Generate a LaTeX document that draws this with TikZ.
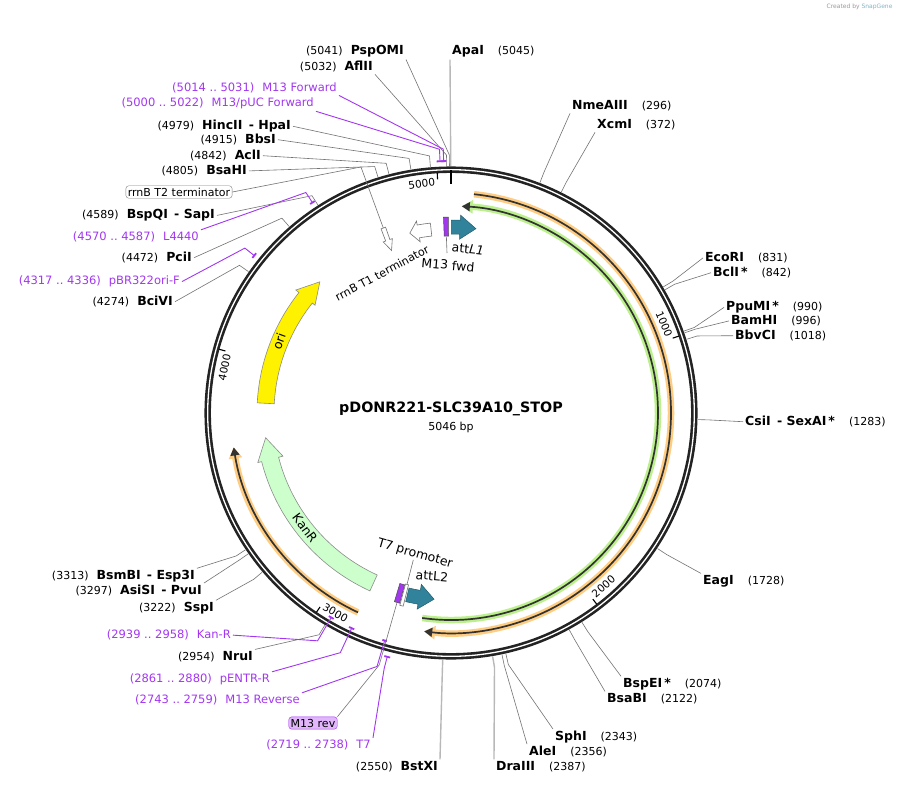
\documentclass[tikz,border=0pt]{standalone}
\usepackage{fontspec}
\setmainfont{DejaVu Sans}
\usetikzlibrary{arrows.meta,positioning,calc}

\definecolor{primer}{RGB}{163,55,240}
\definecolor{attcol}{RGB}{49,131,155}
\definecolor{kancol}{RGB}{204,255,204}
\definecolor{orglow}{RGB}{255,205,130}
\definecolor{grglow}{RGB}{188,240,140}
\definecolor{ringcol}{RGB}{35,35,35}
\definecolor{m13fill}{RGB}{226,182,250}

% feature arrow on the map: style, tail, head base, tip, r in, r out, barb in, barb out, tip r
\newcommand{\featarrow}[9]{%
  \draw[#1] ($(c)+(#2:#6)$) arc[start angle=#2, end angle=#3, radius=#6]
    -- ($(c)+(#3:#8)$) -- ($(c)+(#4:#9)$) -- ($(c)+(#3:#7)$)
    -- ($(c)+(#3:#5)$) arc[start angle=#3, end angle=#2, radius=#5] -- cycle;}
% short feature drawn across the ring: style, angle, half width, r in, r out
\newcommand{\radbar}[5]{%
  \draw[#1] ($(c)+(#2-#3:#4)$) -- ($(c)+(#2+#3:#4)$) -- ($(c)+(#2+#3:#5)$)
    -- ($(c)+(#2-#3:#5)$) -- cycle;}
\newcommand{\bpnum}[1]{{\fontsize{11}{13}\selectfont #1}}

\begin{document}
\begin{tikzpicture}[x=1pt,y=-1pt,
    font=\fontsize{11}{13}\selectfont,
    lbl/.style={inner sep=2pt,font=\fontsize{12.5}{14}\selectfont},
    primlbl/.style={inner sep=2pt,text=primer,font=\fontsize{11.5}{14}\selectfont},
    leader/.style={draw=black!55,line width=0.6pt},
    leaderU/.style={draw=black!28,line width=1.4pt},
    primlead/.style={draw=primer,line width=0.9pt},
    primbar/.style={draw=primer,line width=1.8pt},
    ring/.style={draw=ringcol,line width=6.5pt},
    ringgap/.style={draw=white,line width=1.3pt},
    tick/.style={draw=black,line width=1.1pt},
    tickl/.style={inner sep=0pt,font=\fontsize{10.5}{12}\selectfont},
    featlbl/.style={inner sep=0pt,font=\fontsize{12.5}{14}\selectfont},
    orline/.style={draw=orglow,line width=6.5pt,-{Triangle[length=11pt,width=13pt]}},
    grline/.style={draw=grglow,line width=6.5pt,-{Triangle[length=11pt,width=13pt]}},
    darkline/.style={draw=black!80,line width=1.7pt,-{Triangle[length=8pt,width=9pt]}},
    orifeat/.style={draw=black!45,fill=yellow,line width=0.6pt},
    kanfeat/.style={draw=black!45,fill=kancol,line width=0.6pt},
    whitefeat/.style={draw=black!55,fill=white,line width=0.6pt},
    attfeat/.style={draw=attcol!70!black,fill=attcol,line width=0.5pt},
    primfeat/.style={draw=black!70,fill=primer,line width=0.5pt},
    t2box/.style={draw=black!50,fill=white,rounded corners=3pt,inner sep=2pt},
    m13box/.style={draw=primer,fill=m13fill,rounded corners=3pt,inner sep=2pt}
  ]
  \useasboundingbox (0,0) rectangle (898,785);
  \fill[white] (0,0) rectangle (898,785);
  \coordinate (c) at (451,413);

  % cut sites, left side
  \foreach \bp/\lx/\ly/\nm/\anc/\sty [count=\i] in {
    5041/406/51/PspOMI/south east/leader,
    5032/375/67/AflII/south east/leader,
    4979/293/126/{HincII\enspace- HpaI}/east/leader,
    4915/278/140/BbsI/east/leader,
    4842/263/156/AclI/east/leader,
    4805/249/171/BsaHI/east/leader,
    4589/217/215/{BspQI\enspace- SapI}/east/leader,
    4472/194/258/PciI/east/leader,
    4274/175/302/BciVI/east/leader,
    3313/197/576/{BsmBI\enspace- Esp3I}/north east/leader,
    3297/204/591/{AsiSI\enspace- PvuI}/north east/leader,
    3222/216/608/SspI/north east/leader,
    2954/255/657/NruI/north east/leader,
    2550/440/767/BstXI/north east/leaderU}{
    \pgfmathsetmacro\ph{\bp/5046*360-90}
    \node[lbl,anchor=mid east] (sl\i) at (\lx,\ly+1) {\bpnum{(\bp)}\hspace{8pt}\textbf{\nm}};
    \coordinate (slk\i) at ($(c)+(\ph:258)$);
    \coordinate (sls\i) at ($(c)+(\ph:247)$);
    \draw[\sty] (sl\i.\anc) -- (slk\i) -- (sls\i);
  }

  % cut sites, right side
  \foreach \bp/\lx/\ly/\nm/\anc/\sty [count=\i] in {
    5045/450/51/ApaI/south west/leaderU,
    296/570/106/NmeAIII/south west/leader,
    372/595/125/XcmI/south west/leader,
    831/703/258/EcoRI/west/leader,
    842/711/273/{BclI\,*}/west/leader,
    990/724/307/{PpuMI\,*}/west/leader,
    996/729/321/BamHI/west/leader,
    1018/733/336/BbvCI/west/leader,
    1283/743/422/{CsiI\enspace- SexAI\,*}/west/leader,
    1728/701/581/EagI/north west/leader,
    2074/621/684/{BspEI\,*}/north west/leader,
    2122/605/699/BsaBI/north west/leader,
    2343/553/737/SphI/north west/leader,
    2356/527/752/AleI/north west/leader,
    2387/494/767/DraIII/north west/leaderU}{
    \pgfmathsetmacro\ph{\bp/5046*360-90}
    \node[lbl,anchor=mid west] (sr\i) at (\lx,\ly+1) {\textbf{\nm}\hspace{14pt}\bpnum{(\bp)}};
    \coordinate (srk\i) at ($(c)+(\ph:258)$);
    \coordinate (srs\i) at ($(c)+(\ph:247)$);
    \draw[\sty] (sr\i.\anc) -- (srk\i) -- (srs\i);
  }

  % the ring
  \draw[ring] (c) circle[radius=243.3];
  \draw[ringgap] (c) circle[radius=243.3];
  \draw[line width=2.5pt] ($(c)+(-90:243)$) -- ($(c)+(-90:229)$);
  \foreach \t in {1000,2000,3000,4000,5000}{
    \pgfmathsetmacro\ph{\t/5046*360-90}
    \pgfmathsetmacro\rot{mod(-\t/5046*360+94+720,180)-90}
    \draw[tick] ($(c)+(\ph:240.5)$) -- ($(c)+(\ph:234)$);
    \node[tickl,rotate=\rot] (tk\t) at ($(c)+(\ph-4:231)$) {\t};
  }

  % primers
  \foreach \pa/\pb/\lx/\ly/\nm/\anc/\rr [count=\i] in {
    5014/5031/339/88/M13 Forward/south east/252,
    5000/5022/316/103/{M13/pUC Forward}/south east/252,
    4570/4587/201/237/L4440/north east/252,
    4317/4336/182/281/pBR322ori-F/east/252,
    2939/2958/233/635/Kan-R/east/237,
    2861/2880/272/679/pENTR-R/north east/237,
    2743/2759/302/700/M13 Reverse/north east/237,
    2719/2738/373/745/T7/north east/252}{
    \pgfmathsetmacro\pha{\pa/5046*360-90}
    \pgfmathsetmacro\phb{\pb/5046*360-90}
    \pgfmathsetmacro\phm{(\pha+\phb)/2}
    \node[primlbl,anchor=mid east] (pl\i) at (\lx,\ly+1) {(\pa\ ..\ \pb)\hspace{8pt}\nm};
    \coordinate (plk\i) at ($(c)+(\phm:264)$);
    \coordinate (ple\i) at ($(c)+(\phm:\rr)$);
    \draw[primlead] (pl\i.\anc) -- (plk\i) -- (ple\i);
    \draw[primbar] ($(c)+(\pha:\rr)$) arc[start angle=\pha, end angle=\phb, radius=\rr];
  }

  % long features
  \draw[orline] ($(c)+(-84:220)$) arc[start angle=-84, end angle=97, radius=220];
  \draw[darkline] ($(c)+(-84:220)$) arc[start angle=-84, end angle=97, radius=220];
  \draw[orline] ($(c)+(115:220)$) arc[start angle=115, end angle=171, radius=220];
  \draw[darkline] ($(c)+(115:220)$) arc[start angle=115, end angle=171, radius=220];
  \draw[grline] ($(c)+(98:207)$) arc[start angle=98, end angle=-87, radius=207];
  \draw[darkline] ($(c)+(98:207)$) arc[start angle=98, end angle=-87, radius=207];

  % ori, KanR, rrnB T1, attL1, attL2
  \featarrow{orifeat}{-177}{-141.6}{-135}{177}{194}{173.5}{198}{185.5}
  \featarrow{kanfeat}{114.5}{165.6}{172.4}{178}{195.5}{173.5}{199.5}{187}
  \featarrow{whitefeat}{-96.2}{-100.2}{-102.9}{178}{191}{174}{195}{184.5}
  \featarrow{attfeat}{-89.9}{-87.2}{-82.3}{179}{193}{174}{198}{186}
  \featarrow{attfeat}{103.5}{99.8}{95.2}{180}{194}{174}{199}{187}

  % small features
  \radbar{primfeat}{-91.5}{0.7}{177}{196}
  \radbar{primfeat}{105.9}{0.8}{178}{197}
  \radbar{whitefeat}{104.4}{0.5}{177}{199}
  \draw[whitefeat] ($(c)+(-110.8:197)$) -- ($(c)+(-109.4:197)$) -- ($(c)+(-109.4:184)$)
    -- ($(c)+(-108.6:184)$) -- ($(c)+(-110.1:173)$) -- ($(c)+(-111.6:184)$)
    -- ($(c)+(-110.8:184)$) -- cycle;

  % feature labels
  \node[featlbl,rotate=28,font=\fontsize{11.2}{13}\selectfont] (t1lbl) at (382,273) {rrnB T1 terminator};
  \node[featlbl,rotate=-6] (attl1lbl) at (468,249) {att\textit{L1}};
  \node[featlbl,rotate=-5] (m13fwdlbl) at (448,265) {M13 fwd};
  \node[featlbl,rotate=-16] (t7lbl) at (415,554) {T7 promoter};
  \node[featlbl,rotate=-5] (attl2lbl) at (432,576) {attL2};
  \node[featlbl,rotate=70] (orilbl) at (279,341) {ori};
  \node[featlbl,rotate=-53] (kanlbl) at (305,528) {KanR};
  \node[t2box] (t2) at (179,192) {rrnB T2 terminator};
  \node[m13box] (m13rev) at (313,723) {M13 rev};

  \coordinate (fwdbar) at ($(c)+(-91.5:176)$);
  \coordinate (fwdend) at (447,253);
  \coordinate (t7end) at ($(c)+(104.4:177)$);
  \coordinate (revknee) at ($(c)+(105.9:262)$);
  \coordinate (revbar) at ($(c)+(105.9:197)$);
  \coordinate (t2knee) at ($(c)+(-110.1:262)$);
  \coordinate (t2end) at ($(c)+(-110.1:197)$);
  \draw[leader] (fwdbar) -- (fwdend);
  \draw[leader] (t7lbl.south) -- (t7end);
  \draw[leader] (m13rev.north east) -- (revknee) -- (revbar);
  \draw[leader] (t2.east) -- (t2knee) -- (t2end);

  % name in the middle
  \node[font=\fontsize{14.3}{16}\selectfont\bfseries] (title) at (451,409) {pDONR221-SLC39A10\_STOP};
  \node[below=-1pt of title] (size) {5046 bp};

  \node[anchor=east,font=\fontsize{6}{7}\selectfont,text=black!40] (credit) at (896,7) {Created by \textcolor{attcol!60}{SnapGene}};
\end{tikzpicture}
\end{document}
